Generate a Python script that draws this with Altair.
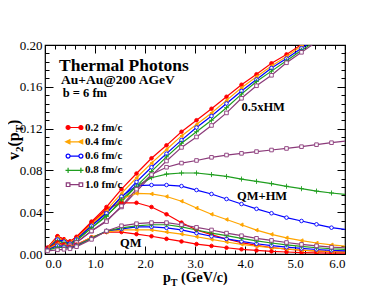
import altair as alt
import pandas as pd

# ---------------- data ----------------
PT = [0.05, 0.25, 0.38, 0.5, 0.63, 0.93, 1.23, 1.53, 1.83, 2.13, 2.43, 2.73,
      3.03, 3.33, 3.63, 3.93, 4.23, 4.53, 4.83, 5.13, 5.43, 5.73, 6.0]
TIMES = ["0.2 fm/c", "0.4 fm/c", "0.6 fm/c", "0.8 fm/c", "1.0 fm/c"]
COLORS = ["#ff0000", "#ffa500", "#0000ff", "#1f9e1f", "#8b3a7a"]
FILLS = ["#ff0000", "#ffa500", "#ffffff", "#1f9e1f", "#ffffff"]

# 0.5 x HM
HM05_02 = [0.006, 0.017, 0.014, 0.012, 0.0165, 0.031, 0.045, 0.062, 0.077, 0.0916, 0.104, 0.117, 0.128, 0.139, 0.1505, 0.162, 0.172, 0.1825, 0.191, 0.2005, 0.210]
HM05_04 = [0.0055, 0.0155, 0.013, 0.011, 0.015, 0.029, 0.042, 0.058, 0.073, 0.087, 0.100, 0.113, 0.124, 0.135, 0.147, 0.159, 0.1697, 0.180, 0.189, 0.199, 0.208]
HM05_06 = [0.005, 0.014, 0.012, 0.010, 0.014, 0.027, 0.040, 0.054, 0.069, 0.083, 0.096, 0.109, 0.121, 0.132, 0.144, 0.156, 0.167, 0.178, 0.187, 0.197, 0.206]
HM05_08 = [0.0045, 0.0125, 0.011, 0.009, 0.013, 0.025, 0.037, 0.050, 0.065, 0.079, 0.093, 0.106, 0.117, 0.128, 0.140, 0.153, 0.165, 0.175, 0.185, 0.195, 0.204]
HM05_10 = [0.004, 0.009, 0.0085, 0.008, 0.011, 0.022, 0.032, 0.045, 0.060, 0.075, 0.089, 0.102, 0.112, 0.123, 0.135, 0.149, 0.161, 0.171, 0.183, 0.193, 0.203]

# QM + HM
QMHM_02 = [0.006, 0.017, 0.014, 0.012, 0.016, 0.030, 0.043, 0.049, 0.049, 0.045, 0.038, 0.030, 0.023, 0.0185, 0.0144, 0.0108, 0.0082, 0.0062, 0.0047, 0.0036, 0.0028, 0.0022, 0.0018]
QMHM_04 = [0.0055, 0.0155, 0.013, 0.011, 0.015, 0.028, 0.041, 0.053, 0.058, 0.0575, 0.055, 0.0505, 0.044, 0.038, 0.033, 0.028, 0.0228, 0.0188, 0.0155, 0.0128, 0.0105, 0.0088, 0.0076]
QMHM_06 = [0.005, 0.014, 0.012, 0.010, 0.014, 0.027, 0.039, 0.055, 0.0655, 0.066, 0.066, 0.065, 0.0612, 0.0574, 0.0526, 0.0478, 0.0432, 0.039, 0.0348, 0.0316, 0.0284, 0.0252, 0.0235]
QMHM_08 = [0.0045, 0.0125, 0.011, 0.009, 0.013, 0.025, 0.036, 0.052, 0.065, 0.073, 0.0765, 0.0775, 0.0775, 0.076, 0.0742, 0.0717, 0.0695, 0.0673, 0.0648, 0.0625, 0.0602, 0.0584, 0.057]
QMHM_10 = [0.004, 0.009, 0.0085, 0.008, 0.011, 0.022, 0.031, 0.046, 0.062, 0.076, 0.083, 0.087, 0.0895, 0.0925, 0.0947, 0.0963, 0.098, 0.0995, 0.101, 0.1027, 0.1046, 0.1065, 0.108]

# QM
QM_02 = [0.005, 0.011, 0.009, 0.007, 0.009, 0.016, 0.021, 0.021, 0.019, 0.017, 0.0145, 0.012, 0.0095, 0.0077, 0.006, 0.0045, 0.0034, 0.0025, 0.0019, 0.0014, 0.0011, 0.0009, 0.0008]
QM_04 = [0.0045, 0.0095, 0.008, 0.0065, 0.0085, 0.016, 0.021, 0.023, 0.023, 0.023, 0.021, 0.019, 0.0165, 0.014, 0.0115, 0.0093, 0.0075, 0.006, 0.0048, 0.0038, 0.003, 0.0024, 0.002]
QM_06 = [0.004, 0.008, 0.007, 0.006, 0.008, 0.015, 0.022, 0.024, 0.026, 0.026, 0.025, 0.023, 0.020, 0.017, 0.0145, 0.012, 0.0098, 0.008, 0.0065, 0.0053, 0.0043, 0.0035, 0.003]
QM_08 = [0.0035, 0.0065, 0.006, 0.0055, 0.0075, 0.015, 0.022, 0.025, 0.027, 0.028, 0.028, 0.026, 0.023, 0.020, 0.0175, 0.015, 0.0125, 0.0105, 0.0088, 0.0073, 0.006, 0.005, 0.0045]
QM_10 = [0.003, 0.004, 0.0045, 0.005, 0.007, 0.014, 0.022, 0.027, 0.029, 0.030, 0.030, 0.028, 0.0255, 0.023, 0.020, 0.0175, 0.015, 0.013, 0.011, 0.0092, 0.0078, 0.0065, 0.006]

GROUPS = {
    "0.5xHM": [HM05_02, HM05_04, HM05_06, HM05_08, HM05_10],
    "QM+HM": [QMHM_02, QMHM_04, QMHM_06, QMHM_08, QMHM_10],
    "QM": [QM_02, QM_04, QM_06, QM_08, QM_10],
}

# annotation texts
BIG_TEXT = ["Thermal Photons"]
BIG_X = [0.28]
BIG_Y = [0.1754]
MID_TEXT = ["Au+Au@200 AGeV"]
MID_X = [0.32]
MID_Y = [0.1627]
SMALL_TEXT = ["b = 6 fm", "0.5xHM", "QM+HM", "QM"]
SMALL_X = [0.354, 3.93, 3.84, 1.5]
SMALL_Y = [0.1505, 0.1368, 0.0517, 0.0064]

X_MAJOR = [0, 1, 2, 3, 4, 5, 6]
X_MINOR = [round(0.2 * i, 1) for i in range(31) if i % 5 != 0]
Y_MAJOR = [0.0, 0.04, 0.08, 0.12, 0.16, 0.20]
Y_MINOR = [round(0.008 * i, 3) for i in range(26) if i % 5 != 0]

# ---------------- build table ----------------
rows = []
for g, series in GROUPS.items():
    for t, vals in zip(TIMES, series):
        for p, v in zip(PT, vals):
            rows.append({"pT": p, "v2": v, "time": t, "group": g})
df = pd.DataFrame(rows)
df_pts = df[df["pT"] < 5.9]
df_leg = df.drop_duplicates("time")

W, H = 300, 209
FONT = "Liberation Serif"

xs = alt.Scale(domain=[0, 6], nice=False, zero=False)
ys = alt.Scale(domain=[0, 0.2], nice=False)


def ax(**kw):
    base = dict(title=None, grid=False, domain=False, labels=False,
                tickColor="black", tickWidth=1)
    base.update(kw)
    return alt.Axis(**base)


def circ(cx, r):
    return f"M{cx - r:.2f},0A{r},{r} 0 1,0 {cx + r:.2f},0A{r},{r} 0 1,0 {cx - r:.2f},0Z"


def tri(cx):
    return f"M{cx - 0.6:.2f},0L{cx + 0.45:.2f},-0.5L{cx + 0.45:.2f},0.5Z"


def plus(cx):
    return f"M{cx - 0.65:.2f},0L{cx + 0.65:.2f},0M{cx:.2f},-0.65L{cx:.2f},0.65"


def sq(cx):
    h = 0.45
    return f"M{cx - h:.2f},{-h}L{cx + h:.2f},{-h}L{cx + h:.2f},{h}L{cx - h:.2f},{h}Z"


LINE = "M-1.1,0L1.1,0"
LEG_SHAPES = [
    LINE + circ(-1.6, 0.5) + circ(1.6, 0.5),
    LINE + tri(-1.6) + tri(1.6),
    LINE + circ(-1.6, 0.5) + circ(1.6, 0.5),
    "M-1.6,0L1.6,0" + plus(-1.6) + plus(1.6),
    LINE + sq(-1.6) + sq(1.6),
]
PLUS = "M-1.4,0L1.4,0M0,-1.4L0,1.4"
PT_SHAPES = ["circle", "triangle-left", "circle", PLUS, "square"]

stroke_scale = alt.Scale(domain=TIMES, range=COLORS)
fill_scale = alt.Scale(domain=TIMES, range=FILLS)

lines = alt.Chart(df).mark_line(strokeWidth=1.2, clip=True).encode(
    x=alt.X("pT:Q", scale=xs, axis=alt.Axis(
        orient="bottom", values=X_MAJOR, format=".1f", title=None, grid=False,
        domain=False, ticks=False, labelPadding=3, labelFontSize=13,
        labelFont=FONT, labelColor="black")),
    y=alt.Y("v2:Q", scale=ys, axis=alt.Axis(
        orient="left", values=Y_MAJOR, format=".2f", title=None, grid=False,
        domain=False, ticks=False, labelPadding=3, labelFontSize=13,
        labelFont=FONT, labelColor="black")),
    stroke=alt.Stroke("time:N", scale=stroke_scale, legend=None),
    detail="group:N",
)

points = alt.Chart(df_pts).mark_point(filled=True, opacity=1, size=13,
                                      strokeWidth=0.9, clip=True).encode(
    x=alt.X("pT:Q", scale=xs, axis=ax(orient="top", offset=-H, values=X_MAJOR, tickSize=8)),
    y=alt.Y("v2:Q", scale=ys, axis=ax(orient="right", offset=-W, values=Y_MAJOR, tickSize=8)),
    stroke=alt.Stroke("time:N", scale=stroke_scale, legend=None),
    fill=alt.Fill("time:N", scale=fill_scale, legend=None),
    shape=alt.Shape("time:N", scale=alt.Scale(domain=TIMES, range=PT_SHAPES), legend=None),
)

leg = alt.Legend(title=None, orient="none", legendX=24, legendY=77,
                 direction="vertical", symbolSize=64, symbolStrokeWidth=1.2,
                 symbolOpacity=1, labelFont=FONT, labelFontSize=11,
                 labelFontWeight="bold", labelColor="black", labelOffset=5,
                 rowPadding=2.3, padding=0, labelBaseline="middle")

legend_layer = alt.Chart(df_leg).mark_point(filled=True, opacity=0).encode(
    x=alt.X("pT:Q", scale=xs, axis=ax(orient="top", offset=-H, values=X_MINOR, tickSize=4)),
    y=alt.Y("v2:Q", scale=ys, axis=ax(orient="right", offset=-W, values=Y_MINOR, tickSize=4)),
    stroke=alt.Stroke("time:N", scale=stroke_scale, legend=leg),
    fill=alt.Fill("time:N", scale=fill_scale, legend=leg),
    shape=alt.Shape("time:N", scale=alt.Scale(domain=TIMES, range=LEG_SHAPES), legend=leg),
)

big = alt.Chart(pd.DataFrame({"t": BIG_TEXT, "x": BIG_X, "y": BIG_Y})).mark_text(
    font=FONT, fontWeight="bold", fontSize=17.5, align="left", baseline="alphabetic",
    color="black").encode(
    x=alt.X("x:Q", scale=xs, axis=ax(orient="bottom", offset=-H, values=X_MAJOR, tickSize=8)),
    y=alt.Y("y:Q", scale=ys, axis=ax(orient="left", offset=-W, values=Y_MAJOR, tickSize=8)),
    text="t:N",
)

small = alt.Chart(pd.DataFrame({"t": SMALL_TEXT, "x": SMALL_X, "y": SMALL_Y})).mark_text(
    font=FONT, fontWeight="bold", fontSize=12.5, align="left", baseline="alphabetic",
    color="black").encode(
    x=alt.X("x:Q", scale=xs, axis=ax(orient="bottom", offset=-H, values=X_MINOR, tickSize=4)),
    y=alt.Y("y:Q", scale=ys, axis=ax(orient="left", offset=-W, values=Y_MINOR, tickSize=4)),
    text="t:N",
)

mid = alt.Chart(pd.DataFrame({"t": MID_TEXT, "x": MID_X, "y": MID_Y})).mark_text(
    font=FONT, fontWeight="bold", fontSize=13.5, align="left", baseline="alphabetic",
    color="black").encode(
    x=alt.X("x:Q", scale=xs, axis=None),
    y=alt.Y("y:Q", scale=ys, axis=None),
    text="t:N",
)

# axis titles with subscripts, built from pieces (pixel positions relative to plot)
title_layers = []
XT = [("p", 14, 118.0, 237), ("T", 10, 125.8, 241), ("(GeV/c)", 14, 136.0, 237)]
for txt, fs, px, py in XT:
    title_layers.append(
        alt.Chart(pd.DataFrame({"t": [txt]})).mark_text(
            font=FONT, fontWeight="bold", fontSize=fs, align="left",
            baseline="alphabetic", color="black").encode(
            x=alt.value(px), y=alt.value(py), text="t:N"))

YT = [("v", 16, 0), ("2", 11, 4), ("(p", 16, 0), ("T", 11, 4), (")", 16, 0)]
YW = {"v": 0.5, "2": 0.5, "(p": 0.889, "T": 0.667, ")": 0.333}
base_x, ypos = -26.5, 115.0
for txt, fs, shift in YT:
    title_layers.append(
        alt.Chart(pd.DataFrame({"t": [txt]})).mark_text(
            font=FONT, fontWeight="bold", fontSize=fs, align="left",
            baseline="alphabetic", angle=270, color="black").encode(
            x=alt.value(base_x + shift), y=alt.value(ypos), text="t:N"))
    ypos -= YW[txt] * fs

chart = alt.layer(lines, points, legend_layer, big, small, mid, *title_layers).resolve_scale(
    stroke="independent", fill="independent", shape="independent"
).resolve_axis(x="independent", y="independent").properties(
    width=W, height=H,
    padding={"left": 37, "top": 37, "right": 34, "bottom": 37},
    autosize=alt.AutoSizeParams(type="none"),
).configure_view(stroke="black", strokeWidth=1.2)

chart.save("out.html", embed_options={"renderer": "svg", "actions": False})
